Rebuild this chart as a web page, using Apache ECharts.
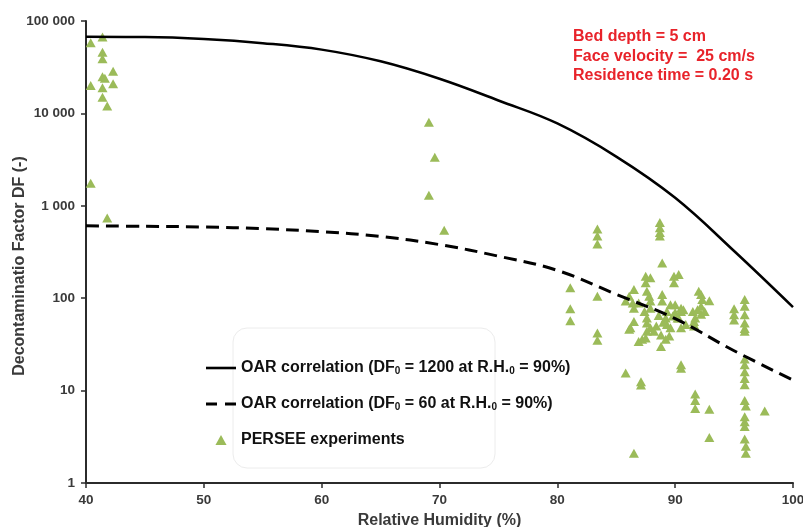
<!DOCTYPE html>
<html><head><meta charset="utf-8">
<script src="https://cdn.jsdelivr.net/npm/echarts@6/dist/echarts.min.js"></script>
<style>html,body{margin:0;padding:0;background:#fff}#c{width:803px;height:527px}</style>
</head><body><div id="c"></div>
<script>
const xTicks = [40, 50, 60, 70, 80, 90, 100];
const yTickLabels = ['1', '10', '100', '1 000', '10 000', '100 000'];
const xTitle = 'Relative Humidity (%)';
const yTitle = 'Decontaminatio Factor DF (-)';
const annotationLines = ['Bed depth = 5 cm', 'Face velocity =  25 cm/s', 'Residence time = 0.20 s'];
const seriesNames = ['OAR correlation (DF0 = 1200 at R.H.0 = 90%)', 'OAR correlation (DF0 = 60 at R.H.0 = 90%)', 'PERSEE experiments'];
const legendRich = [
  'OAR correlation (DF{s|0} = 1200 at R.H.{s|0} = 90%)',
  'OAR correlation (DF{s|0} = 60 at R.H.{s|0} = 90%)',
  'PERSEE experiments'
];

const curveRH = [40, 45, 50, 55, 60, 65, 70, 75, 80, 85, 90, 95, 100];
const dfCorr1200 = [67400, 67000, 63800, 57600, 49000, 36600, 23700, 13800, 7780, 3410, 1220, 324, 80];
const dfCorr60 = [607, 600, 590, 565, 525, 465, 380, 285, 200, 110, 60, 27, 13];

const expRH = [
  40.4, 41.4, 41.4, 41.4, 42.3, 41.4, 41.6, 40.4, 41.4, 42.3, 41.4, 41.8, 40.4, 41.8,
  69.1, 69.6, 69.1, 70.4,
  81.1, 81.1, 81.1,
  83.4, 83.4, 83.4, 83.4, 83.4, 83.4,
  85.8, 86.5, 87.1, 87.1,
  88.7, 88.7, 88.7, 88.7, 88.9,
  87.5, 87.9, 87.5, 89.9, 90.3, 89.9,
  86.5, 86.1, 85.8, 86.4, 86.5,
  87.6, 87.8, 87.9, 87.9, 87.4, 86.9,
  88.9, 88.9,
  89.6, 90.0, 90.5, 90.7,
  89.3, 89.2, 89.8, 90.2, 89.3, 89.6,
  87.6, 87.6, 87.9, 88.2, 87.6,
  86.5, 86.2, 86.1,
  87.2, 87.5, 86.9,
  88.8, 89.2, 89.5, 88.8,
  90.5, 90.3, 90.5, 90.9,
  91.5, 91.9, 91.7, 91.6, 92.2,
  92.0, 92.2, 92.3, 92.9, 92.2, 92.5,
  91.6, 91.6,
  88.6, 89.0, 88.4, 90.0,
  90.5, 90.5,
  91.7, 91.7, 91.7, 92.9, 92.9,
  95.0, 95.0, 95.0,
  95.9, 95.9, 95.9, 95.9, 95.9, 95.9,
  95.9, 95.9, 95.9, 95.9, 95.9,
  95.9, 96.0, 95.9, 95.9, 95.9, 95.9, 96.0, 96.0,
  97.6
];
const expDF = [
  58000, 67000, 46000, 39000, 28500, 25000, 24000, 20000, 19000, 21000, 15000, 12000, 1750, 740,
  8000, 3350, 1300, 545,
  130, 77, 57,
  560, 470, 385, 105, 42, 35,
  15.5, 2.1, 12.5, 11.5,
  660, 580, 515, 470, 240,
  173, 166, 147, 173, 180, 147,
  124, 105, 93, 89, 78,
  119, 105, 93, 78, 72, 89,
  110, 93,
  85, 85, 78, 75,
  72, 61, 64, 61, 52, 48,
  61, 54, 48, 44, 44,
  56, 48, 46,
  36, 37, 34,
  40, 36, 39, 30,
  72, 61, 48, 52,
  72, 75, 61, 52, 67,
  119, 110, 97, 94, 82, 72,
  56, 50,
  65, 55, 50, 70,
  19, 17.5,
  9.2, 7.8, 6.4, 6.3, 3.1,
  77, 66, 58,
  97, 82, 66, 54, 47, 44,
  22, 19, 16, 13.5, 11.6,
  7.8, 6.8, 5.2, 4.6, 4.1, 3.0, 2.5, 2.1,
  6.0
];

const FONT = 'Liberation Sans, Arial, sans-serif';
const chart = echarts.init(document.getElementById('c'), null, {renderer: 'canvas'});
const axisColor = '#2b2b2b';
const labelColor = '#3a3a3a';

chart.setOption({
  animation: false,
  backgroundColor: '#fff',
  grid: {left: 86, right: 10, top: 21, bottom: 44, containLabel: false, outerBoundsMode: 'none'},
  xAxis: {
    type: 'value', min: xTicks[0], max: xTicks[xTicks.length - 1], interval: xTicks[1] - xTicks[0],
    name: xTitle, nameLocation: 'middle', nameGap: 30, nameMoveOverlap: false,
    nameTextStyle: {fontFamily: FONT, fontSize: 16, fontWeight: 'bold', color: labelColor},
    axisLine: {lineStyle: {color: axisColor, width: 2}},
    axisTick: {inside: false, length: 5, lineStyle: {color: axisColor, width: 1.5}},
    axisLabel: {margin: 10, fontFamily: FONT, fontSize: 13.5, fontWeight: 'bold', color: labelColor},
    splitLine: {show: false}
  },
  yAxis: {
    type: 'log', logBase: 10, min: 1, max: 100000,
    name: yTitle, nameLocation: 'middle', nameGap: 58, nameRotate: 90, nameMoveOverlap: false,
    nameTextStyle: {fontFamily: FONT, fontSize: 16, fontWeight: 'bold', color: labelColor, padding: [0, 28, 0, 0]},
    axisLine: {show: true, lineStyle: {color: axisColor, width: 2}},
    axisTick: {show: true, inside: false, length: 5, lineStyle: {color: axisColor, width: 1.5}},
    axisLabel: {
      margin: 11, fontFamily: FONT, fontSize: 13.5, fontWeight: 'bold', color: labelColor,
      formatter: v => yTickLabels[Math.round(Math.log10(v))]
    },
    splitLine: {show: false},
    minorTick: {show: false}
  },
  legend: {
    orient: 'vertical', left: 201, top: 355, itemWidth: 30, itemHeight: 10, itemGap: 20,
    selectedMode: false, symbolKeepAspect: true,
    data: [
      {name: seriesNames[0], icon: 'path://M0,0H30V2.6H0Z'},
      {name: seriesNames[1], icon: 'path://M0,0H11V3H0ZM19,0H30V3H19Z'},
      {name: seriesNames[2], icon: 'path://M5,0L10,9L0,9Z'}
    ],
    formatter: name => legendRich[seriesNames.indexOf(name)],
    textStyle: {
      fontFamily: FONT, fontSize: 16, fontWeight: 'bold', color: '#111',
      rich: {s: {fontFamily: FONT, fontSize: 10, fontWeight: 'bold', color: '#111', verticalAlign: 'bottom'}}
    }
  },
  graphic: [
    {type: 'rect', z: 0, shape: {x: 233, y: 328, width: 262, height: 140, r: 14},
     style: {fill: 'none', stroke: '#ececec', lineWidth: 1}},
    {type: 'text', z: 10, x: 573, y: 27,
     style: {text: annotationLines.join('\n'), fill: '#e8232a', font: 'bold 16px ' + FONT, lineHeight: 19.5, verticalAlign: 'top'}}
  ],
  series: [
    {
      name: seriesNames[2], type: 'scatter', symbol: 'triangle', symbolSize: [10, 9],
      itemStyle: {color: '#9bbb59', opacity: 1},
      data: expRH.map((x, i) => [x, expDF[i]]), z: 2
    },
    {
      name: seriesNames[0], type: 'line', symbol: 'none', showSymbol: false, smooth: 0.4,
      lineStyle: {color: '#000', width: 2.5}, itemStyle: {color: '#000'},
      data: curveRH.map((x, i) => [x, dfCorr1200[i]]), z: 3
    },
    {
      name: seriesNames[1], type: 'line', symbol: 'none', showSymbol: false, smooth: 0.4,
      lineStyle: {color: '#000', width: 3, type: [13, 7]}, itemStyle: {color: '#000'},
      data: curveRH.map((x, i) => [x, dfCorr60[i]]), z: 3
    }
  ]
});
</script>
</body></html>
